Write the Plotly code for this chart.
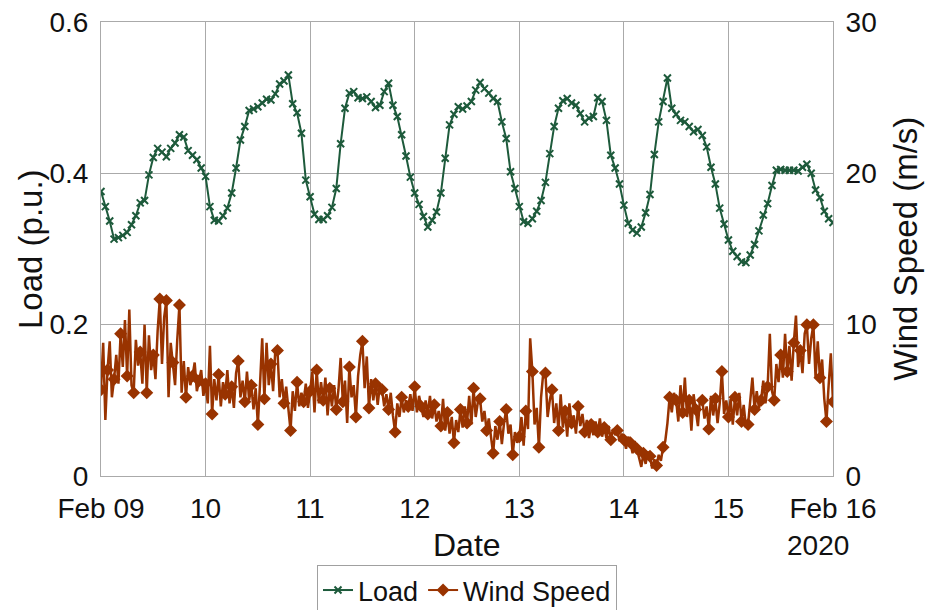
import pandas as pd
import plotly.graph_objects as go

# ---------------- data ----------------
start = "2020-02-09 00:00"
day_ticks = ["2020-02-09", "2020-02-10", "2020-02-11", "2020-02-12",
             "2020-02-13", "2020-02-14", "2020-02-15", "2020-02-16"]
day_labels = ["Feb 09", "10", "11", "12", "13", "14", "15", "Feb 16"]
load_ticks = [0, 0.2, 0.4, 0.6]
wind_ticks = [0, 10, 20, 30]

# hourly load (p.u.)
load_d1 = [0.376, 0.356, 0.337, 0.313, 0.315, 0.318, 0.322, 0.332, 0.344, 0.361, 0.364, 0.398,
           0.421, 0.433, 0.428, 0.422, 0.433, 0.440, 0.451, 0.448, 0.430, 0.424, 0.418, 0.407]
load_d2 = [0.396, 0.356, 0.338, 0.337, 0.344, 0.354, 0.374, 0.407, 0.444, 0.462, 0.483, 0.485,
           0.488, 0.493, 0.498, 0.497, 0.505, 0.518, 0.522, 0.530, 0.492, 0.480, 0.453, 0.391]
load_d3 = [0.369, 0.346, 0.339, 0.339, 0.344, 0.355, 0.380, 0.439, 0.486, 0.506, 0.508, 0.500,
           0.499, 0.501, 0.495, 0.487, 0.490, 0.508, 0.519, 0.490, 0.475, 0.451, 0.423, 0.395]
load_d4 = [0.374, 0.359, 0.343, 0.329, 0.338, 0.349, 0.374, 0.420, 0.464, 0.478, 0.488, 0.485,
           0.489, 0.495, 0.510, 0.520, 0.512, 0.506, 0.499, 0.495, 0.468, 0.446, 0.402, 0.380]
load_d5 = [0.356, 0.336, 0.334, 0.340, 0.350, 0.364, 0.388, 0.426, 0.462, 0.486, 0.496, 0.499,
           0.493, 0.490, 0.479, 0.468, 0.473, 0.475, 0.500, 0.495, 0.470, 0.424, 0.407, 0.386]
load_d6 = [0.358, 0.334, 0.325, 0.321, 0.329, 0.348, 0.372, 0.425, 0.468, 0.495, 0.526, 0.486,
           0.478, 0.470, 0.468, 0.462, 0.455, 0.458, 0.450, 0.435, 0.408, 0.386, 0.354, 0.333]
load_d7 = [0.312, 0.297, 0.290, 0.283, 0.282, 0.292, 0.306, 0.324, 0.345, 0.360, 0.384, 0.404,
           0.405, 0.404, 0.404, 0.404, 0.403, 0.408, 0.412, 0.400, 0.378, 0.368, 0.350, 0.340,
           0.335]

# half-hourly wind speed (m/s)
wind_d1 = [5.7, 8.8, 3.7, 7.0, 8.9, 5.2, 6.4, 8.0, 6.1, 9.4, 7.2, 10.3,
           6.6, 11.0, 6.0, 5.5, 9.0, 7.3, 8.2, 6.1, 10.0, 5.5, 9.3, 7.0,
           8.0, 6.4, 9.6, 11.7, 7.4, 10.5, 11.6, 5.2, 8.8, 7.5, 6.0, 9.0,
           11.3, 5.5, 7.6, 5.2, 7.2, 6.0, 6.6, 7.5, 5.6, 6.3, 7.0, 5.3]
wind_d2 = [6.1, 4.8, 8.6, 4.1, 6.4, 5.0, 6.7, 4.6, 6.2, 5.4, 7.0, 4.8,
           5.9, 4.5, 6.8, 7.6, 5.2, 6.3, 4.9, 6.9, 5.0, 6.0, 4.4, 5.8,
           3.4, 6.1, 9.1, 5.1, 8.8, 6.0, 7.4, 5.6, 8.3, 8.3, 5.2, 6.4,
           4.8, 5.9, 4.2, 3.0, 5.6, 4.3, 6.2, 4.6, 5.5, 4.9, 6.1, 4.5]
wind_d3 = [5.6, 6.9, 4.2, 7.0, 4.8, 6.2, 5.0, 6.5, 4.0, 5.8, 4.6, 6.0,
           4.4, 5.7, 7.8, 4.9, 6.3, 3.5, 7.2, 5.2, 6.0, 3.9, 6.6, 8.0,
           8.9, 5.8, 7.9, 4.5, 6.4, 5.0, 6.1, 4.7, 6.0, 5.7, 4.6, 5.4,
           4.4, 5.5, 4.0, 2.9, 4.8, 3.9, 5.2, 4.2, 5.0, 4.6, 5.4, 4.3]
wind_d4 = [5.9, 4.2, 5.3, 4.6, 3.9, 5.0, 4.1, 5.3, 3.8, 4.7, 3.6, 4.3,
           3.3, 5.1, 3.0, 4.2, 2.8, 3.9, 2.2, 3.7, 2.9, 4.4, 3.2, 4.6,
           3.5, 5.3, 3.4, 5.8, 3.9, 4.9, 5.1, 3.6, 4.3, 3.0, 3.8, 2.6,
           1.5, 3.3, 2.4, 3.6, 2.1, 3.5, 4.4, 2.8, 3.4, 1.4, 2.9, 2.2]
wind_d5 = [2.6, 3.9, 2.0, 4.3, 3.1, 9.1, 6.9, 3.4, 4.5, 1.9, 5.2, 6.8,
           6.8, 3.9, 5.0, 5.7, 3.5, 4.8, 3.0, 5.4, 3.2, 4.3, 2.6, 4.8,
           3.5, 4.0, 2.8, 4.6, 3.3, 4.1, 2.9, 3.7, 2.5, 3.4, 2.7, 3.6,
           2.9, 3.8, 2.6, 3.2, 2.5, 3.3, 2.4, 3.1, 2.7, 3.0, 2.3, 2.8]
wind_d6 = [2.4, 1.8, 2.6, 2.2, 1.5, 2.3, 1.8, 1.2, 0.6, 1.5, 0.8, 1.6,
           1.3, 0.5, 1.1, 0.7, 1.4, 1.0, 1.9, 2.3, 3.5, 5.2, 4.2, 5.5,
           5.0, 3.6, 6.0, 4.2, 6.5, 3.9, 5.0, 3.0, 5.4, 4.4, 3.3, 5.2,
           5.0, 3.8, 4.6, 3.1, 5.3, 4.0, 5.1, 3.5, 4.8, 6.9, 4.1, 5.0]
wind_d7 = [3.9, 5.1, 3.4, 5.2, 4.0, 5.5, 3.6, 4.7, 3.3, 3.4, 5.0, 6.5,
           4.4, 5.6, 4.5, 5.0, 6.3, 4.8, 5.9, 9.4, 5.6, 5.0, 7.4, 6.2,
           8.0, 6.5, 9.4, 6.9, 8.6, 6.3, 8.8, 10.6, 7.2, 8.3, 6.8, 9.4,
           10.0, 7.4, 9.1, 10.0, 6.5, 8.9, 6.5, 7.7, 5.1, 3.6, 6.0, 8.1,
           4.9]

load = load_d1 + load_d2 + load_d3 + load_d4 + load_d5 + load_d6 + load_d7
wind = wind_d1 + wind_d2 + wind_d3 + wind_d4 + wind_d5 + wind_d6 + wind_d7

load_t = pd.date_range(start, periods=len(load), freq="h")
wind_t = pd.date_range(start, periods=len(wind), freq="30min")

# ---------------- styles ----------------
GREEN = "#1d5a3b"
RUST = "#993300"
GRID = "#aaaaaa"
FONT = "Liberation Sans, Arial, sans-serif"
FS_TICK = 28
FS_TITLE = 33
FS_DATE = 32
FS_LEG = 27
TXT = "#111111"
MARK_EVERY = 3

wind_mt = wind_t[::MARK_EVERY]
wind_mv = wind[::MARK_EVERY]

fig = go.Figure()
fig.add_trace(go.Scatter(
    x=load_t, y=load, name="Load", mode="lines+markers",
    line=dict(color=GREEN, width=2),
    marker=dict(symbol="x-thin", size=7, color=GREEN,
                line=dict(color=GREEN, width=2)),
    showlegend=False))
fig.add_trace(go.Scatter(
    x=wind_t, y=wind, mode="lines", yaxis="y2",
    line=dict(color=RUST, width=2.5), showlegend=False))
fig.add_trace(go.Scatter(
    x=wind_mt, y=wind_mv, mode="markers", yaxis="y2",
    marker=dict(symbol="diamond", size=10, color=RUST), showlegend=False))
# legend entries
fig.add_trace(go.Scatter(
    x=[None], y=[None], name="Load", mode="lines+markers",
    line=dict(color=GREEN, width=2),
    marker=dict(symbol="x-thin", size=7, color=GREEN,
                line=dict(color=GREEN, width=2))))
fig.add_trace(go.Scatter(
    x=[None], y=[None], name="Wind Speed", mode="lines+markers", yaxis="y2",
    line=dict(color=RUST, width=2),
    marker=dict(symbol="diamond", size=10, color=RUST)))

axis_common = dict(gridcolor=GRID, gridwidth=1, automargin=False,
                   showline=True, linecolor=GRID, linewidth=1,
                   ticks="inside", ticklen=5, tickcolor=GRID,
                   tickfont=dict(family=FONT, size=FS_TICK, color=TXT),
                   zeroline=False)

fig.update_layout(
    width=928, height=610,
    margin=dict(l=101, r=95, t=22, b=134, autoexpand=False),
    plot_bgcolor="white", paper_bgcolor="white",
    font=dict(family=FONT, size=FS_TICK, color=TXT),
    xaxis=dict(**axis_common, showgrid=True, type="date",
               range=[day_ticks[0], day_ticks[-1]],
               tickvals=day_ticks, ticktext=day_labels,
               mirror=True, ticklabelstandoff=7),
    yaxis=dict(**axis_common, showgrid=True, range=[0, 0.6], tickvals=load_ticks,
               ticktext=["0", "0.2", "0.4", "0.6"], ticklabelstandoff=6),
    yaxis2=dict(**axis_common, showgrid=False, overlaying="y", side="right",
                range=[0, 30], tickvals=wind_ticks, ticklabelstandoff=6),
    legend=dict(orientation="h", x=0.5, xanchor="center",
                y=-0.196, yanchor="top",
                bordercolor="#a0a0a0", borderwidth=1,
                font=dict(family=FONT, size=FS_LEG, color=TXT),
                itemwidth=30, tracegroupgap=0),
    showlegend=True,
    annotations=[
        dict(text="Date", xref="paper", yref="paper", x=0.5, y=-0.152,
             xanchor="center", yanchor="middle", showarrow=False,
             font=dict(family=FONT, size=FS_DATE, color=TXT)),
        dict(text="2020", xref="paper", yref="paper", x=0.979, y=-0.152,
             xanchor="center", yanchor="middle", showarrow=False,
             font=dict(family=FONT, size=FS_TICK, color=TXT)),
        dict(text="Load (p.u.)", xref="paper", yref="paper", x=-0.097, y=0.5,
             xanchor="center", yanchor="middle", textangle=-90, showarrow=False,
             font=dict(family=FONT, size=FS_TITLE, color=TXT)),
        dict(text="Wind Speed (m/s)", xref="paper", yref="paper", x=1.098, y=0.5,
             xanchor="center", yanchor="middle", textangle=-90, showarrow=False,
             font=dict(family=FONT, size=FS_TITLE, color=TXT)),
    ],
)

fig.write_html("out.html")
